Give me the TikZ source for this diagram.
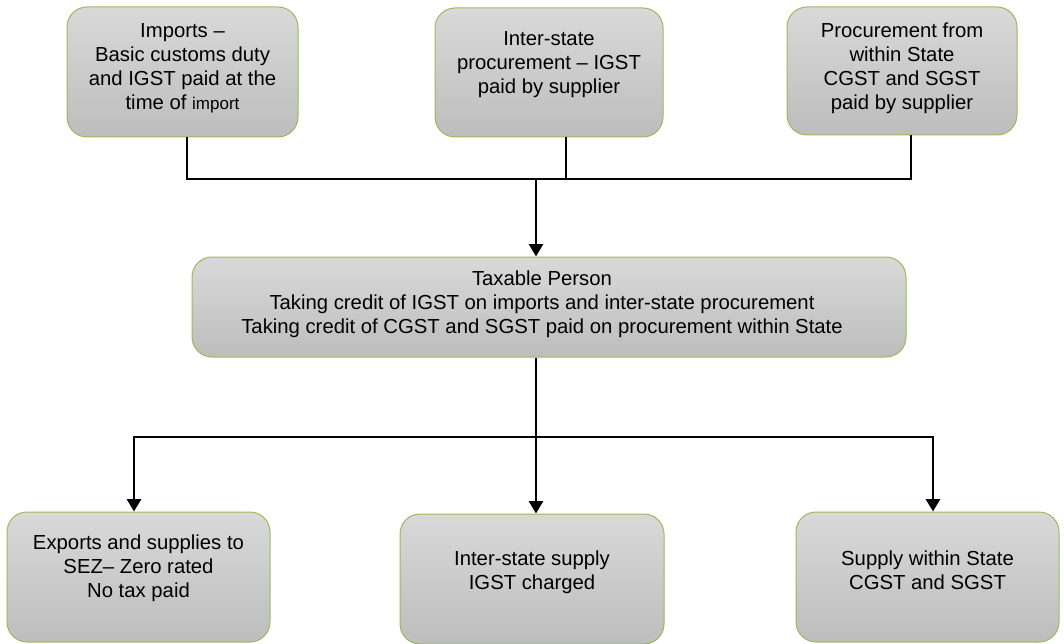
\documentclass[tikz,border=0pt]{standalone}
\usepackage{fontspec}
\setmainfont{Liberation Sans}
\usetikzlibrary{arrows.meta}
\definecolor{bordergreen}{HTML}{9BBB59}
\definecolor{topgray}{HTML}{D9D9D9}
\definecolor{botgray}{HTML}{BDBDBD}
\tikzset{
  box/.style={draw=bordergreen, line width=1pt, rounded corners=20pt,
    top color=topgray, bottom color=botgray, inner sep=0pt},
  txt/.style={align=center, font=\fontsize{20.3}{24}\selectfont, inner sep=0pt},
  conn/.style={line width=2.9pt, black},
  arr/.style={conn, -{Triangle[length=12.5pt,width=14pt]}}
}
\begin{document}
\begin{tikzpicture}[x=1pt,y=-1pt]
\useasboundingbox (0,0) rectangle (1064,644);
% top boxes
\node[box, minimum width=231pt, minimum height=130pt] (b1) at (182.5,72) {};
\node[txt] (t1) at (182.5,68) {Imports --\\Basic customs duty\\and IGST paid at the\\time of {\fontsize{17}{24}\selectfont import}};
\node[box, minimum width=228pt, minimum height=129pt] (b2) at (549,72.5) {};
\node[txt] (t2) at (549,65) {Inter-state\\procurement -- IGST\\paid by supplier};
\node[box, minimum width=230pt, minimum height=128pt] (b3) at (902,71) {};
\node[txt] (t3) at (902,68) {Procurement from\\within State\\CGST and SGST\\paid by supplier};
% middle box
\node[box, minimum width=714pt, minimum height=100pt] (m) at (549,307) {};
\node[txt] (tm) at (542,304) {Taxable Person\\Taking credit of IGST on imports and inter-state procurement\\Taking credit of CGST and SGST paid on procurement within State};
% bottom boxes
\node[box, minimum width=263pt, minimum height=130pt] (bA) at (138.5,577) {};
\node[txt] (tA) at (138.5,568) {Exports and supplies to\\SEZ-- Zero rated\\No tax paid};
\node[box, minimum width=264pt, minimum height=130pt] (bB) at (532,579) {};
\node[txt] (tB) at (532,572) {Inter-state supply\\IGST charged};
\node[box, minimum width=263pt, minimum height=130pt] (bC) at (927.5,577) {};
\node[txt] (tC) at (927.5,570) {Supply within State\\CGST and SGST};
% junctions
\coordinate (j1) at (536,179);
\coordinate (j2) at (536,437);
% upper connectors
\draw[conn] ([xshift=4.5pt]b1.south) |- (j1);
\draw[conn] ([xshift=9pt]b3.south) |- (j1);
\draw[conn] ([xshift=17pt]b2.south) |- (j1);
\draw[arr] (j1) -- (j1 |- m.north);
% lower connectors
\draw[conn] (j1 |- m.south) -- (j2);
\draw[arr] (j2) -| ([xshift=-4.5pt]bA.north);
\draw[arr] (j2) -| ([xshift=5.5pt]bC.north);
\draw[arr] (j2) -- (j2 |- bB.north);
\end{tikzpicture}
\end{document}
